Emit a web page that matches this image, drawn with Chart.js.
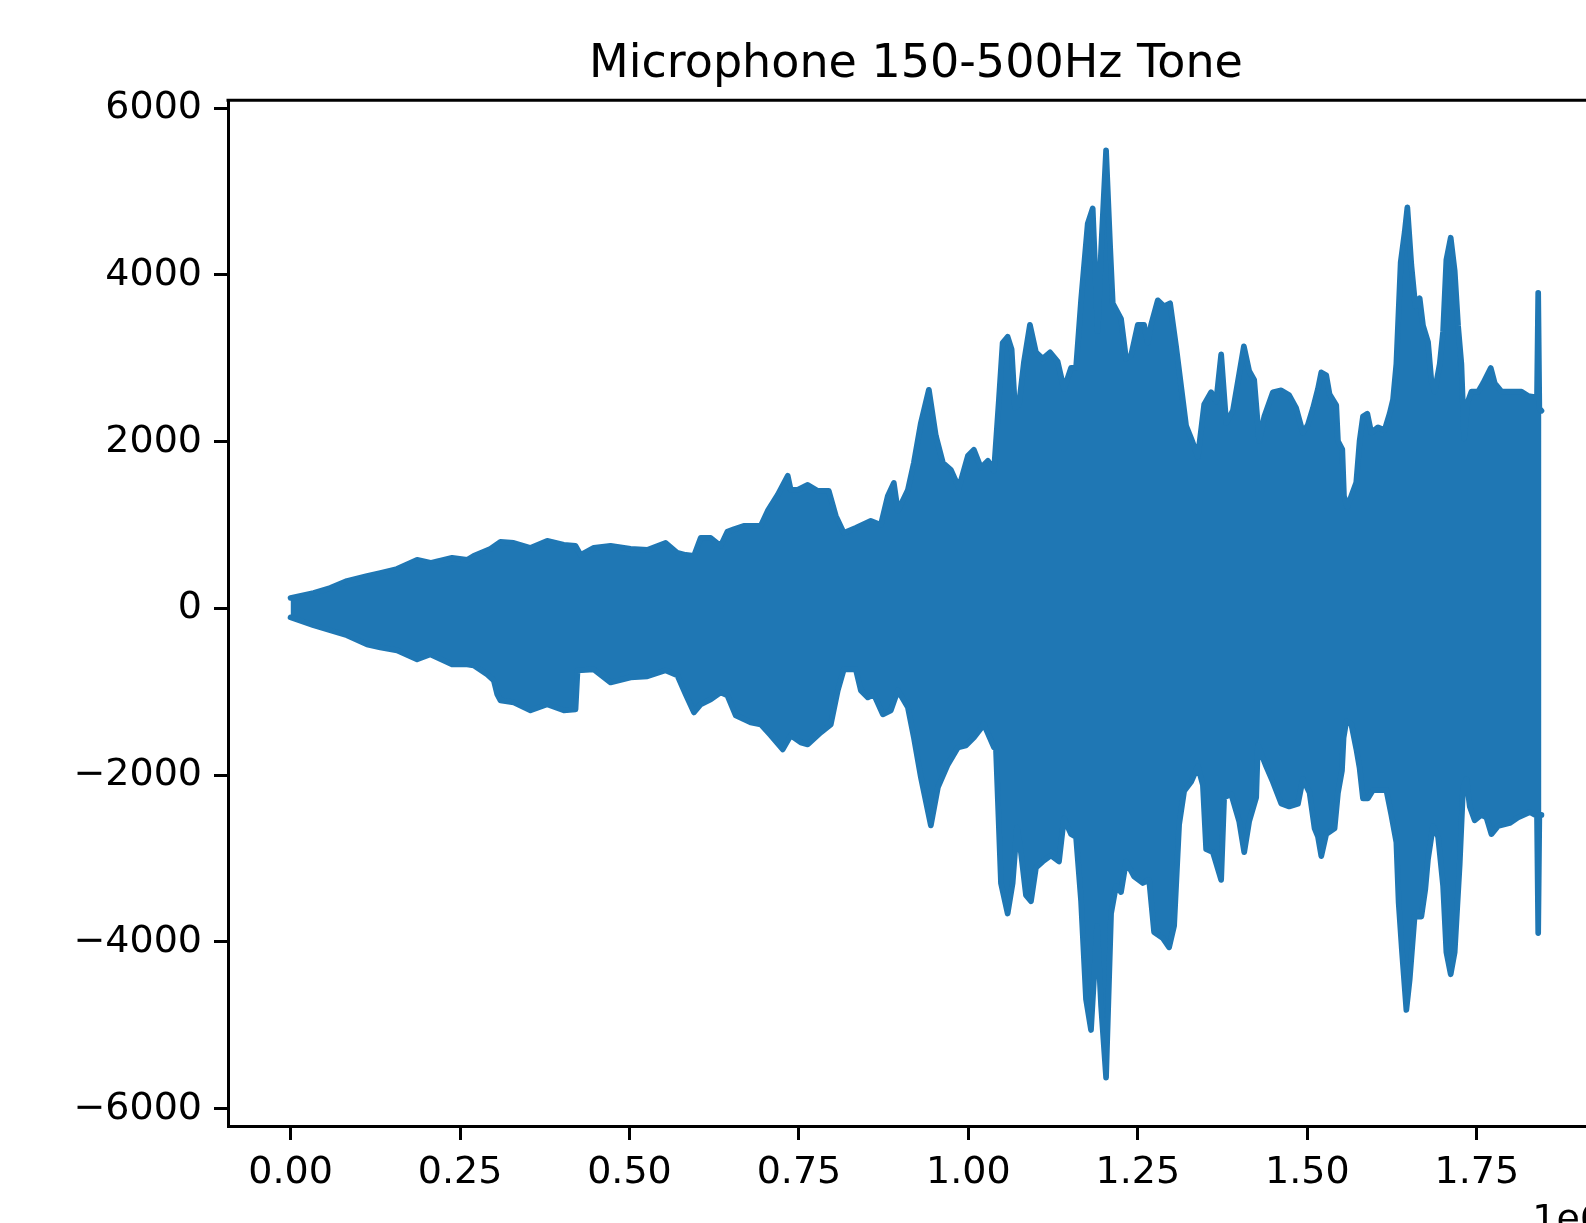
<!DOCTYPE html>
<html>
<head>
<meta charset="utf-8">
<title>Microphone 150-500Hz Tone</title>
<script src="https://cdn.jsdelivr.net/npm/chart.js@4.4.1/dist/chart.umd.min.js"></script>
<style>
  html, body { margin: 0; padding: 0; background: #fff; overflow: hidden; }
  #wave { display: block; }
</style>
</head>
<body>
<canvas id="wave" width="1640" height="1223"></canvas>
<script>
const titleText = 'Microphone 150-500Hz Tone';
const offsetText = '1e6';

// envelope of the waveform (sample index, amplitude)
const upperX = [0, 34000, 58600, 83300, 112800, 132500, 157100, 186700, 206300, 238300,
  260500, 270200, 294900, 309700, 329300, 354000, 378600, 403100, 420400, 427800,
  447400, 472100, 501600, 526300, 553300, 570600, 582900, 595100, 605000, 619800,
  634500, 644400, 654200, 668500, 693600, 703900, 718700, 733500, 737900, 748200,
  763000, 777800, 794000, 804400, 816200, 833900, 856000, 870800, 881100, 890000,
  895900, 910700, 919500, 929900, 941700, 952000, 962400, 974200, 986000, 999300,
  1008100, 1018500, 1028800, 1037700, 1045100, 1050500, 1057900, 1063800, 1068700, 1074600,
  1082000, 1090800, 1099700, 1109600, 1120400, 1131700, 1141000, 1151400, 1158800, 1166200,
  1176000, 1183400, 1190800, 1195700, 1203100, 1209000, 1213000, 1225200, 1232600, 1240000,
  1249900, 1259200, 1264600, 1269500, 1279400, 1288700, 1297600, 1306400, 1313800, 1321200,
  1328600, 1338500, 1347800, 1358100, 1365500, 1372900, 1380300, 1390200, 1399500, 1406400,
  1414200, 1421600, 1429000, 1436400, 1449200, 1461500, 1473300, 1483600, 1493500, 1500900,
  1508300, 1515700, 1520600, 1527900, 1532800, 1542700, 1545200, 1551600, 1554100, 1559000,
  1564900, 1572200, 1577100, 1582100, 1588500, 1594400, 1604300, 1614000, 1621400, 1626400,
  1631300, 1637700, 1643600, 1647600, 1653500, 1659400, 1665700, 1670700, 1678100, 1683000,
  1687900, 1695300, 1700300, 1705100, 1711500, 1717400, 1722400, 1727300, 1731300, 1736200,
  1742100, 1752000, 1759300, 1770600, 1776500, 1786400, 1801100, 1815900, 1825800, 1835500,
  1838800, 1840600, 1842300, 1845400];
const upperY = [126, 186, 246, 330, 390, 426, 474, 582, 546, 606,
  582, 630, 714, 798, 786, 726, 810, 762, 750, 642,
  726, 750, 714, 702, 786, 666, 642, 630, 846, 846,
  750, 920, 950, 990, 990, 1170, 1362, 1590, 1422, 1422,
  1482, 1410, 1410, 1110, 906, 966, 1050, 1002, 1350, 1506,
  1170, 1422, 1746, 2226, 2622, 2070, 1746, 1662, 1446, 1830,
  1902, 1686, 1770, 1650, 2519, 3186, 3258, 3107, 2410, 2446,
  2960, 3402, 3071, 2996, 3071, 2960, 2629, 2886, 2886, 3695,
  4614, 4798, 3330, 4283, 5495, 4356, 3659, 3474, 2996, 3034,
  3402, 3402, 3186, 3402, 3695, 3622, 3659, 3144, 2666, 2190,
  2041, 1822, 2446, 2593, 2483, 3048, 2226, 2372, 2814, 3144,
  2850, 2742, 2005, 2298, 2593, 2615, 2556, 2402, 2106, 2204,
  2402, 2634, 2831, 2798, 2568, 2436, 2008, 1908, 1348, 1216,
  1348, 1512, 2008, 2304, 2336, 2106, 2172, 2138, 2336, 2502,
  2930, 4150, 4512, 4810, 4117, 3623, 3721, 3391, 3194, 2732,
  2600, 2930, 3325, 4182, 4446, 4050, 3391, 2930, 2040, 2468,
  2600, 2600, 2700, 2884, 2700, 2600, 2600, 2600, 2548, 2534,
  2534, 3786, 2400, 2370];

const lowerX = [0, 34000, 58600, 83300, 112800, 132500, 157100, 186700, 206300, 238300,
  260500, 270200, 290000, 299800, 304800, 309700, 329300, 354000, 378600, 403100,
  420400, 423400, 447400, 472100, 501600, 526300, 553300, 570600, 582900, 595100,
  605000, 619800, 634500, 644400, 656700, 678800, 693600, 708400, 726100, 737900,
  752700, 763000, 782200, 797000, 807300, 816200, 833900, 841300, 851600, 860500,
  873800, 885600, 895900, 910700, 919500, 929900, 944600, 955000, 969700, 984500,
  996300, 1008100, 1022900, 1037700, 1040600, 1048000, 1057900, 1065300, 1071600, 1077500,
  1084900, 1092300, 1099700, 1109600, 1121800, 1133700, 1141000, 1151400, 1158800, 1166200,
  1173500, 1180900, 1189800, 1195700, 1203100, 1210500, 1217800, 1225200, 1232600, 1244400,
  1257300, 1266600, 1273900, 1286800, 1296100, 1303500, 1310900, 1318300, 1328600, 1338500,
  1345900, 1350700, 1360600, 1372900, 1377300, 1387700, 1399500, 1406900, 1414200, 1424600,
  1427100, 1439300, 1449200, 1461500, 1473300, 1486200, 1493500, 1503300, 1510700, 1515700,
  1520600, 1527900, 1540200, 1545200, 1551100, 1553500, 1557500, 1564900, 1572200, 1577100,
  1582100, 1589500, 1596900, 1609200, 1616500, 1623900, 1631300, 1634700, 1639700, 1646100,
  1651000, 1658300, 1668200, 1674100, 1678100, 1685500, 1692900, 1700300, 1705100, 1711500,
  1717400, 1724800, 1729800, 1734700, 1739600, 1746900, 1756800, 1764200, 1771600, 1781500,
  1798600, 1811000, 1828200, 1835500, 1838800, 1840600, 1842300, 1845400];
const lowerY = [-107, -203, -263, -323, -431, -467, -503, -611, -551, -671,
  -671, -683, -791, -863, -1027, -1103, -1127, -1223, -1151, -1223,
  -1211, -743, -731, -887, -827, -815, -743, -803, -1031, -1247,
  -1151, -1091, -1007, -1043, -1283, -1367, -1391, -1523, -1691, -1523,
  -1607, -1631, -1487, -1391, -983, -731, -731, -983, -1067, -1031,
  -1271, -1223, -983, -1187, -1547, -2027, -2603, -2147, -1871, -1667,
  -1643, -1547, -1391, -1667, -1675, -3293, -3659, -3293, -2627, -2927,
  -3439, -3512, -3107, -3035, -2963, -3035, -2519, -2705, -2741, -3512,
  -4688, -5056, -3806, -4763, -5627, -3659, -3329, -3402, -3035, -3215,
  -3293, -3256, -3881, -3954, -4064, -3806, -2591, -2190, -2080, -1895,
  -2117, -2888, -2924, -3256, -2267, -2227, -2555, -2924, -2555, -2267,
  -1639, -1895, -2080, -2339, -2375, -2344, -2046, -2212, -2639, -2738,
  -2970, -2706, -2639, -2212, -1948, -1552, -1355, -1387, -1684, -1915,
  -2278, -2278, -2178, -2178, -2178, -2476, -2804, -3530, -4123, -4816,
  -4453, -3695, -3695, -3365, -3002, -2608, -2738, -3332, -4123, -4387,
  -4123, -3068, -2146, -2046, -2375, -2542, -2476, -2507, -2706, -2608,
  -2574, -2507, -2442, -2476, -2476, -3893, -2476, -2476];

const xTickValues = [0, 250000, 500000, 750000, 1000000, 1250000, 1500000, 1750000];
const yTickValues = [-6000, -4000, -2000, 0, 2000, 4000, 6000];
const xRange = [-92270, 1937670];
const yRange = [-6207, 6095];

const waveBlue = '#1f77b4';
Chart.defaults.font.family = "'DejaVu Sans', sans-serif";
Chart.defaults.color = '#000';

function toPoints(xs, ys) {
  return xs.map((x, i) => ({ x: x, y: ys[i] }));
}

// top and right spines, like the matplotlib frame
const frame = {
  id: 'frame',
  afterDraw(chart) {
    const { ctx, chartArea } = chart;
    ctx.save();
    ctx.strokeStyle = '#000';
    ctx.lineWidth = 3;
    ctx.beginPath();
    ctx.moveTo(chartArea.left - 1.5, chartArea.top);
    ctx.lineTo(chartArea.right, chartArea.top);
    ctx.lineTo(chartArea.right, chartArea.bottom);
    ctx.stroke();
    ctx.restore();
  }
};

const lineStyle = {
  borderColor: waveBlue,
  backgroundColor: waveBlue,
  borderWidth: 5.7,
  borderJoinStyle: 'round',
  borderCapStyle: 'round',
  pointRadius: 0,
  tension: 0
};

new Chart(document.getElementById('wave'), {
  type: 'line',
  data: {
    datasets: [
      Object.assign({ data: toPoints(upperX, upperY), fill: false }, lineStyle),
      Object.assign({ data: toPoints(lowerX, lowerY), fill: '-1' }, lineStyle)
    ]
  },
  options: {
    responsive: false,
    animation: false,
    devicePixelRatio: 1,
    layout: { padding: { left: 0, right: 36, top: 0, bottom: 0 } },
    plugins: {
      legend: { display: false },
      tooltip: { enabled: false },
      title: {
        display: true,
        text: titleText,
        fullSize: false,
        color: '#000',
        font: { size: 46, weight: 'normal' },
        padding: { top: 37, bottom: 8 }
      }
    },
    scales: {
      x: {
        type: 'linear',
        min: xRange[0],
        max: xRange[1],
        afterBuildTicks: (axis) => { axis.ticks = xTickValues.map(v => ({ value: v })); },
        afterFit: (axis) => { axis.height = 97; },
        grid: { display: true, drawOnChartArea: false, drawTicks: true, tickLength: 14, tickWidth: 3, tickColor: '#000' },
        border: { display: true, color: '#000', width: 3 },
        ticks: {
          autoSkip: false, maxRotation: 0, minRotation: 0, padding: 10,
          font: { size: 38 }, color: '#000',
          callback: (v) => (v / 1e6).toFixed(2)
        },
        title: {
          display: true, text: offsetText, align: 'end', color: '#000',
          font: { size: 38 }, padding: { top: 0, bottom: -21 }
        }
      },
      y: {
        type: 'linear',
        min: yRange[0],
        max: yRange[1],
        afterBuildTicks: (axis) => { axis.ticks = yTickValues.map(v => ({ value: v })); },
        afterFit: (axis) => { axis.width = 228; },
        grid: { display: true, drawOnChartArea: false, drawTicks: true, tickLength: 14, tickWidth: 3, tickColor: '#000' },
        border: { display: true, color: '#000', width: 3 },
        ticks: {
          autoSkip: false, padding: 12,
          font: { size: 38 }, color: '#000',
          callback: (v) => (v < 0 ? '\u2212' + Math.abs(v) : String(v))
        }
      }
    }
  },
  plugins: [frame]
});
</script>
</body>
</html>
